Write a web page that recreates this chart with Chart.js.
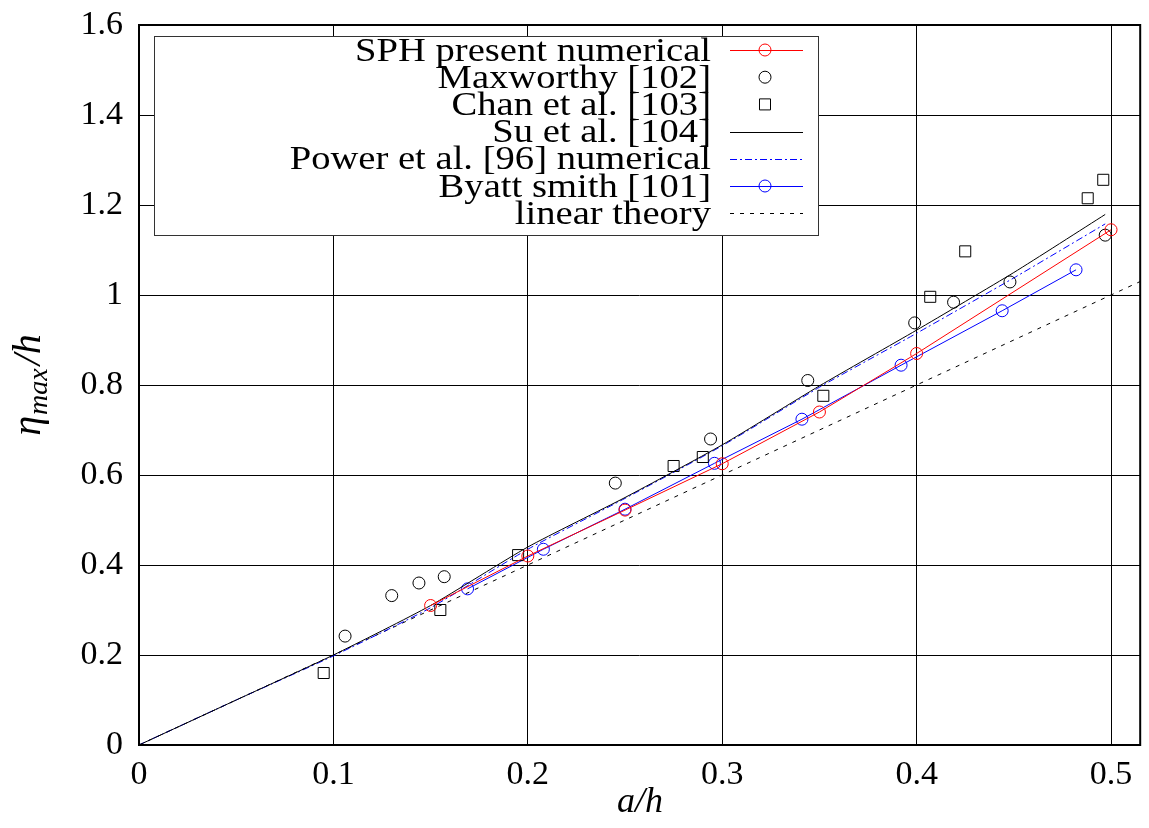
<!DOCTYPE html>
<html>
<head>
<meta charset="utf-8">
<script src="https://cdn.jsdelivr.net/npm/chart.js@4"></script>
<style>
  body { margin: 0; background: #fff; }
  canvas { display: block; }
</style>
</head>
<body>
<canvas id="chart" width="1149" height="828"></canvas>
<script>
// values
const sphX = [0.15, 0.2, 0.25, 0.3, 0.35, 0.4, 0.5];
const sphY = [0.31, 0.42, 0.522, 0.625, 0.74, 0.87, 1.145];

const maxworthyX = [0.106, 0.13, 0.144, 0.157, 0.245, 0.294, 0.344, 0.399, 0.419, 0.448, 0.497];
const maxworthyY = [0.242, 0.332, 0.36, 0.374, 0.582, 0.68, 0.81, 0.938, 0.984, 1.029, 1.133];

const chanX = [0.095, 0.155, 0.195, 0.275, 0.29, 0.352, 0.407, 0.425, 0.488, 0.496];
const chanY = [0.16, 0.30, 0.422, 0.62, 0.64, 0.776, 0.996, 1.097, 1.215, 1.256];

const suX = [0, 0.05, 0.1, 0.15, 0.2, 0.25, 0.3, 0.35, 0.4, 0.45, 0.497];
const suY = [0, 0.1, 0.2, 0.31, 0.44, 0.55, 0.667, 0.798, 0.922, 1.05, 1.179];

const powerX = [0, 0.05, 0.1, 0.15, 0.2, 0.25, 0.3, 0.35, 0.4, 0.45, 0.497];
const powerY = [0, 0.1, 0.198, 0.305, 0.435, 0.548, 0.665, 0.795, 0.915, 1.038, 1.158];

const byattX = [0.169, 0.208, 0.25, 0.296, 0.341, 0.392, 0.444, 0.482];
const byattY = [0.347, 0.435, 0.524, 0.626, 0.724, 0.844, 0.965, 1.056];

const linearX = [0, 0.515];
const linearY = [0, 1.03];

const xTicks = [0, 0.1, 0.2, 0.3, 0.4, 0.5];
const yTicks = [0, 0.2, 0.4, 0.6, 0.8, 1, 1.2, 1.4, 1.6];

const labels = ['SPH present numerical', 'Maxworthy [102]', 'Chan et al. [103]', 'Su et al. [104]',
  'Power et al. [96] numerical', 'Byatt smith [101]', 'linear theory'];

const FONT = '"Liberation Serif", "DejaVu Serif", serif';

function pts(xs, ys) {
  return xs.map((x, i) => ({ x: x, y: ys[i] }));
}

// gnuplot style box legend, text right aligned left of the sample
const boxLegend = {
  id: 'boxLegend',
  afterDatasetsDraw(chart) {
    const ctx = chart.ctx;
    const left = 154, top = 36, right = 818, bottom = 235;
    ctx.save();
    ctx.fillStyle = '#fff';
    ctx.fillRect(left, top, right - left, bottom - top);
    ctx.strokeStyle = '#333';
    ctx.lineWidth = 1;
    ctx.strokeRect(left + 0.5, top + 0.5, right - left, bottom - top);
    ctx.font = '33px ' + FONT;
    ctx.textAlign = 'right';
    ctx.textBaseline = 'middle';
    chart.data.datasets.forEach((ds, i) => {
      const y = 50 + i * 27.2;
      ctx.fillStyle = '#000';
      // widen the glyphs a little, the source font is broader than Times
      ctx.save();
      ctx.translate(711, y + 2);
      ctx.scale(1.17, 1);
      ctx.fillText(ds.label, 0, 0);
      ctx.restore();
      if (ds.showLine !== false) {
        ctx.strokeStyle = ds.borderColor;
        ctx.lineWidth = 1;
        ctx.setLineDash(ds.borderDash || []);
        ctx.beginPath();
        ctx.moveTo(730, Math.round(y) + 0.5);
        ctx.lineTo(803, Math.round(y) + 0.5);
        ctx.stroke();
        ctx.setLineDash([]);
      }
      if (ds.pointRadius > 0) {
        ctx.strokeStyle = ds.pointBorderColor || ds.borderColor;
        ctx.lineWidth = 1;
        ctx.beginPath();
        if (ds.pointStyle === 'rect') {
          const s = ds.pointRadius * Math.SQRT1_2;
          ctx.rect(765 - s, y - s, 2 * s, 2 * s);
        } else {
          ctx.arc(765, y, ds.pointRadius, 0, Math.PI * 2);
        }
        ctx.stroke();
      }
    });
    ctx.restore();
  },
  afterDraw(chart) {
    const ctx = chart.ctx;
    const a = chart.chartArea;
    ctx.save();
    // plot frame
    ctx.strokeStyle = '#000';
    ctx.lineWidth = 2;
    ctx.strokeRect(a.left, a.top, a.right - a.left, a.bottom - a.top);
    // axis titles
    ctx.fillStyle = '#000';
    ctx.textBaseline = 'alphabetic';
    ctx.textAlign = 'center';
    ctx.font = 'italic 36px ' + FONT;
    ctx.fillText('a/h', 640, 812);
    ctx.translate(40, 385);
    ctx.rotate(-Math.PI / 2);
    ctx.textAlign = 'left';
    ctx.font = 'italic 40px ' + FONT;
    const w1 = ctx.measureText('η').width;
    ctx.font = 'italic 28px ' + FONT;
    const w2 = ctx.measureText('max').width;
    ctx.font = 'italic 40px ' + FONT;
    const w3 = ctx.measureText('/h').width;
    const x0 = -(w1 + w2 + w3 + 4) / 2;
    ctx.fillText('η', x0, 0);
    ctx.font = 'italic 28px ' + FONT;
    ctx.fillText('max', x0 + w1 + 1, 7);
    ctx.font = 'italic 40px ' + FONT;
    ctx.fillText('/h', x0 + w1 + w2 + 4, 0);
    ctx.restore();
  }
};

new Chart(document.getElementById('chart'), {
  type: 'scatter',
  data: {
    datasets: [
      { label: labels[0], data: pts(sphX, sphY), showLine: true, borderColor: '#ff0000', backgroundColor: 'transparent',
        borderWidth: 1, pointStyle: 'circle', pointRadius: 6, pointBorderWidth: 1, pointBorderColor: '#ff0000' },
      { label: labels[1], data: pts(maxworthyX, maxworthyY), showLine: false, borderColor: '#000', backgroundColor: 'transparent',
        pointStyle: 'circle', pointRadius: 6, pointBorderWidth: 1 },
      { label: labels[2], data: pts(chanX, chanY), showLine: false, borderColor: '#000', backgroundColor: 'transparent',
        pointStyle: 'rect', pointRadius: 7.8, pointBorderWidth: 1 },
      { label: labels[3], data: pts(suX, suY), showLine: true, borderColor: '#000', backgroundColor: 'transparent',
        borderWidth: 1, pointRadius: 0, tension: 0.2 },
      { label: labels[4], data: pts(powerX, powerY), showLine: true, borderColor: '#0000ff', backgroundColor: 'transparent',
        borderWidth: 1, pointRadius: 0, borderDash: [7, 3, 2, 3], tension: 0.2 },
      { label: labels[5], data: pts(byattX, byattY), showLine: true, borderColor: '#0000ff', backgroundColor: 'transparent',
        borderWidth: 1, pointStyle: 'circle', pointRadius: 6, pointBorderWidth: 1, pointBorderColor: '#0000ff' },
      { label: labels[6], data: pts(linearX, linearY), showLine: true, borderColor: '#000', backgroundColor: 'transparent',
        borderWidth: 1, pointRadius: 0, borderDash: [4, 6] }
    ]
  },
  options: {
    responsive: false,
    animation: false,
    events: [],
    layout: { padding: { top: 25, right: 1, left: 0, bottom: 0 } },
    plugins: {
      legend: { display: false },
      tooltip: { enabled: false }
    },
    scales: {
      x: {
        type: 'linear',
        min: 0,
        max: 0.515,
        afterBuildTicks: axis => { axis.ticks = xTicks.map(v => ({ value: v })); },
        afterFit: axis => { axis.height = 83; axis.paddingLeft = 0; axis.paddingRight = 0; },
        grid: { color: '#000', lineWidth: 1, drawTicks: false },
        border: { display: false },
        ticks: {
          padding: 10,
          color: '#000',
          font: { family: FONT, size: 34 },
          callback: v => String(+v.toFixed(2))
        }
      },
      y: {
        type: 'linear',
        min: 0,
        max: 1.6,
        afterBuildTicks: axis => { axis.ticks = yTicks.map(v => ({ value: v })); },
        afterFit: axis => { axis.width = 139; axis.paddingTop = 0; axis.paddingBottom = 0; },
        grid: { color: '#000', lineWidth: 1, drawTicks: false },
        border: { display: false },
        ticks: {
          padding: 16,
          color: '#000',
          font: { family: FONT, size: 34 },
          callback: v => String(+v.toFixed(2))
        }
      }
    }
  },
  plugins: [boxLegend]
});
</script>
</body>
</html>
